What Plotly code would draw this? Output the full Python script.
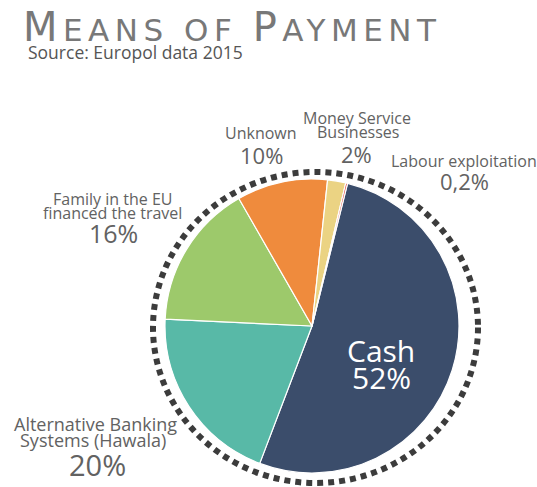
import plotly.graph_objects as go

W, H = 537, 487

categories = ["Cash", "Alternative Banking Systems (Hawala)", "Family in the EU financed the travel",
              "Unknown", "Money Service Businesses", "Labour exploitation"]
values = [52, 20, 16, 10, 2, 0.2]
pct_labels = ["52%", "20%", "16%", "10%", "2%", "0,2%"]
colors = ["#3b4d6b", "#58b9a7", "#9dc96b", "#ef8b3d", "#ebd383", "#e0453a"]

def px(x):
    return x / W

def py(y):
    return (H - y) / H

cx, cy, r = 312, 326, 147

fig = go.Figure(go.Pie(
    labels=categories, values=values, sort=False, direction="clockwise",
    rotation=14, textinfo="none", hoverinfo="label+value",
    marker=dict(colors=colors, line=dict(color="white", width=1.2)),
    domain=dict(x=[px(cx - r), px(cx + r)], y=[py(cy + r), py(cy - r)]),
    showlegend=False,
))

grey = "#626262"
font = "Open Sans"
ann = []

def add(text, x, y, size, color=grey, anchor="center", family=font, weight="normal"):
    ann.append(dict(text=text, x=px(x), y=py(y), xref="paper", yref="paper",
                    xanchor=anchor, yanchor="middle", showarrow=False,
                    font=dict(family=family, size=size, color=color, weight=weight)))

# Title
ls = "letter-spacing:5.5px"
add(f'<span style="{ls}">M</span><span style="font-size:31px;{ls}">EANS OF </span>'
    f'<span style="{ls}">P</span><span style="font-size:31px;{ls}">AYMENT</span>',
    21, 27, 40, "#787878", "left", "DejaVu Sans")
add("Source: Europol data 2015", 26, 52, 17.5, "#555555", "left")

# Labels
add("Money Service", 357, 118, 16)
add("Businesses", 358, 132, 16)
add(pct_labels[4], 356, 154, 22)

add("Labour exploitation", 464, 161, 16)
add(pct_labels[5], 464, 181, 22)

add("Unknown", 261, 133, 16)
add(pct_labels[3], 261, 155, 22)

add("Family in the EU", 112, 199, 16)
add("financed the travel", 112, 213, 16)
add(pct_labels[2], 113, 233, 25)

add("Alternative Banking", 95, 424, 18)
add("Systems (Hawala)", 93, 440, 18)
add(pct_labels[1], 97, 464, 29)

add(categories[0], 381, 350, 30, "white")
add(pct_labels[0], 381, 377, 30, "white")

fig.update_layout(
    width=W, height=H, margin=dict(l=0, r=0, t=0, b=0),
    paper_bgcolor="white", plot_bgcolor="white",
    annotations=ann,
    shapes=[dict(type="circle", xref="paper", yref="paper",
                 x0=px(153), x1=px(478), y0=py(483), y1=py(172),
                 line=dict(color="#3c3c3c", width=6, dash="6px,5px"))],
)

fig.write_html("out.html", config={"displayModeBar": False},
               post_script="document.body.style.margin='0';document.body.style.overflow='hidden';")
